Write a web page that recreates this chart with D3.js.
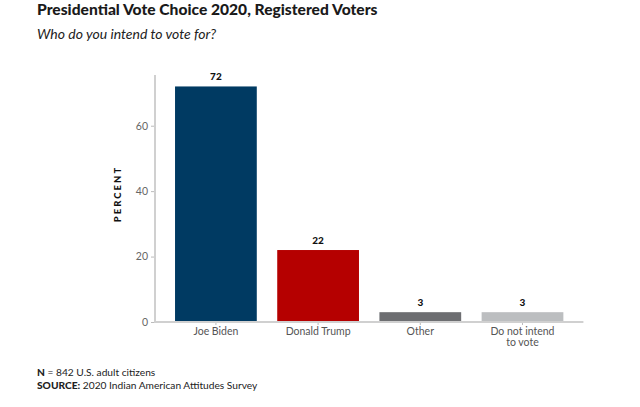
<!DOCTYPE html>
<html><head><meta charset="utf-8">
<script src="https://cdn.jsdelivr.net/npm/d3@7"></script>
<style>body{margin:0;background:#fff;font-family:Lato,sans-serif}</style>
</head><body>
<svg id="c" width="640" height="407"></svg>
<script>
const categories = ["Joe Biden", "Donald Trump", "Other", "Do not intend to vote"];
const categoryLines = [["Joe Biden"], ["Donald Trump"], ["Other"], ["Do not intend", "to vote"]];
const values = [72, 22, 3, 3];
const colors = ["#003a62", "#b50000", "#6d6e71", "#bcbec0"];
const yTicks = [0, 20, 40, 60];

const svg = d3.select("#c");
const x = d3.scaleBand().domain(categories).range([155, 583.4]).paddingInner(0.2).paddingOuter(0.196);
const y = d3.scaleLinear().domain([0, 75.5]).range([322, 75]);

svg.append("text").attr("x", 37).attr("y", 15).attr("font-size", 15.6).attr("font-weight", 900)
  .attr("fill", "#1a1a1a").text("Presidential Vote Choice 2020, Registered Voters");
svg.append("text").attr("x", 37).attr("y", 39).attr("font-size", 14).attr("font-style", "italic")
  .attr("fill", "#222").text("Who do you intend to vote for?");

// y axis
const ya = svg.append("g").attr("transform", "translate(155,0)")
  .call(d3.axisLeft(y).tickValues(yTicks).tickSize(4).tickPadding(3));
ya.select(".domain").remove();
ya.selectAll(".tick line").attr("stroke", "#bbb");
ya.selectAll(".tick text").attr("font-family", "Lato").attr("font-size", 10.5).attr("fill", "#666");
svg.append("line").attr("x1", 155).attr("x2", 155).attr("y1", 75).attr("y2", 323)
  .attr("stroke", "#d0d0d0").attr("stroke-width", 2);

// bars
svg.selectAll("rect.bar").data(values).enter().append("rect")
  .attr("x", (d, i) => x(categories[i])).attr("width", x.bandwidth())
  .attr("y", d => y(d)).attr("height", d => y(0) - y(d))
  .attr("fill", (d, i) => colors[i]);

// value labels
svg.selectAll("text.val").data(values).enter().append("text")
  .attr("x", (d, i) => x(categories[i]) + x.bandwidth() / 2).attr("y", d => y(d) - 6)
  .attr("text-anchor", "middle").attr("font-size", 10).attr("font-weight", 900)
  .attr("fill", "#111").text(d => d);

// x axis
const xa = svg.append("g").attr("transform", "translate(0,322)")
  .call(d3.axisBottom(x).tickSize(3).tickFormat(""));
xa.select(".domain").remove();
xa.selectAll(".tick line").attr("stroke", "#bbb");
svg.append("line").attr("x1", 155).attr("x2", 583.4).attr("y1", 322).attr("y2", 322)
  .attr("stroke", "#d0d0d0").attr("stroke-width", 2);
categories.forEach((c, i) => {
  const t = svg.append("text").attr("x", x(c) + x.bandwidth() / 2).attr("y", 335)
    .attr("text-anchor", "middle").attr("font-size", 10.5).attr("fill", "#555");
  categoryLines[i].forEach((l, j) => t.append("tspan").attr("x", x(c) + x.bandwidth() / 2)
    .attr("dy", j === 0 ? 0 : 11).text(l));
});

// y label
svg.append("text").attr("transform", "translate(121,194) rotate(-90)").attr("text-anchor", "middle")
  .attr("font-size", 9.5).attr("font-weight", 900).attr("letter-spacing", 2).attr("fill", "#111")
  .text("PERCENT");

// footnotes
const f1 = svg.append("text").attr("x", 37).attr("y", 376).attr("font-size", 10.2).attr("fill", "#222");
f1.append("tspan").attr("font-weight", 900).text("N");
f1.append("tspan").text(" = 842 U.S. adult citizens");
const f2 = svg.append("text").attr("x", 37).attr("y", 389).attr("font-size", 10.2).attr("fill", "#222");
f2.append("tspan").attr("font-weight", 900).text("SOURCE:");
f2.append("tspan").text(" 2020 Indian American Attitudes Survey");
</script>
</body></html>
